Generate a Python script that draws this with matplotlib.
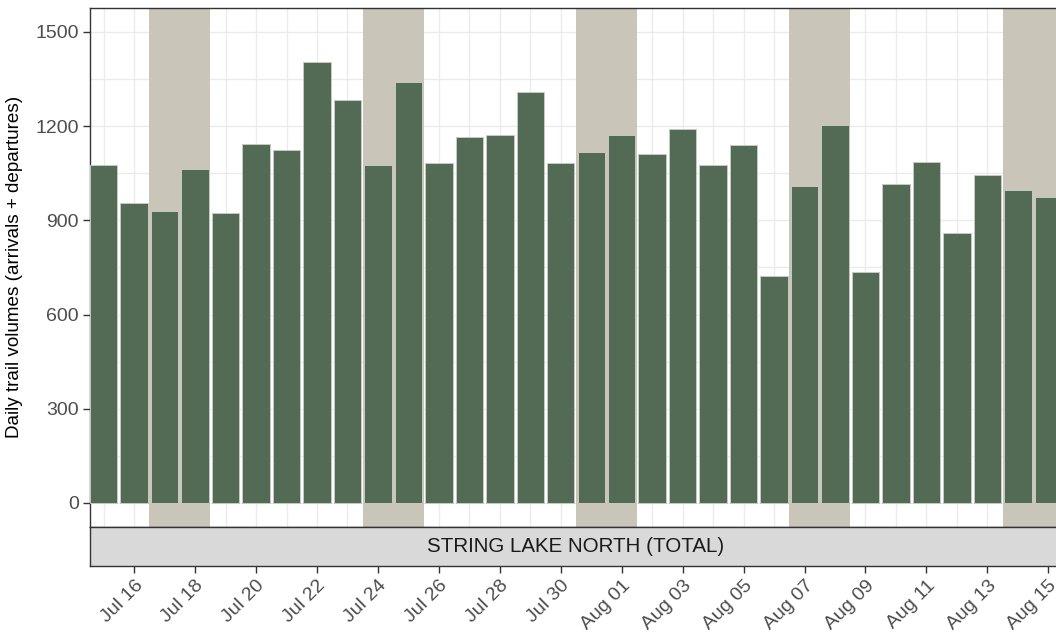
import numpy as np
import pandas as pd
import matplotlib
matplotlib.use('Agg')
import matplotlib.pyplot as plt
import matplotlib.dates as mdates

plt.rcParams['font.family'] = ['Liberation Sans', 'DejaVu Sans']

# daily totals, String Lake North
dates = pd.date_range('2021-07-15', '2021-08-15', freq='D')
volumes = [1076, 955, 930, 1064, 924, 1143, 1124, 1404, 1283, 1076, 1341,
           1083, 1166, 1172, 1309, 1083, 1118, 1172, 1111, 1191, 1076, 1140,
           723, 1010, 1204, 736, 1016, 1086, 860, 1045, 997, 975]
site = 'STRING LAKE NORTH (TOTAL)'
ylabel = 'Daily trail volumes (arrivals + departures)'
yticks = [0, 300, 600, 900, 1200, 1500]

bar_col = '#536a55'
shade_col = '#c9c5b9'
grid_col = '#ebebeb'

fig = plt.figure(figsize=(10.56, 6.39), dpi=100)
W, H = 1056, 639
px_left, px_right = 90, 1062
ax = fig.add_axes([px_left / W, (H - 526.5) / H, (px_right - px_left) / W, (526.5 - 8) / H])
strip = fig.add_axes([px_left / W, (H - 566) / H, (px_right - px_left) / W, 39.5 / H], sharex=ax)

x = mdates.date2num(dates)
ax.set_xlim(x[0] - 0.45, x[-1] + 0.45)
ax.set_ylim(-75, 1576)

# weekend shading (Sat + Sun)
for d in dates:
    if d.dayofweek == 5:
        s = mdates.date2num(d)
        ax.axvspan(s - 0.5, s + 1.5, color=shade_col, lw=0, zorder=1)

ax.bar(x, volumes, width=0.9, color=bar_col, edgecolor='#c4cbc3', linewidth=0.7, zorder=3)

ax.set_yticks(yticks)
ax.set_yticks([150, 450, 750, 1050, 1350], minor=True)
ax.set_xticks(mdates.date2num(dates[1::2]))
ax.set_xticks(mdates.date2num(dates[0::2]), minor=True)
ax.grid(True, which='both', color=grid_col, lw=1, zorder=0)
ax.set_axisbelow(True)
ax.tick_params(axis='x', which='both', bottom=False, labelbottom=False)
ax.tick_params(axis='y', which='minor', left=False)
ax.tick_params(axis='y', which='major', labelsize=14, labelcolor='#4d4d4d',
               color='#333333', length=5, width=1, pad=3)
for sp in ax.spines.values():
    sp.set_color('#333333')
    sp.set_linewidth(1)
ax.set_ylabel(ylabel, fontsize=13.6, color='black', labelpad=9)

strip.set_facecolor('#d9d9d9')
strip.set_yticks([])
strip.set_ylim(0, 1)
for sp in strip.spines.values():
    sp.set_color('#333333')
    sp.set_linewidth(1)
strip.text(0.5, 0.5, site, transform=strip.transAxes, ha='center', va='center',
           fontsize=14.8, color='#1a1a1a')
strip.xaxis.set_major_formatter(mdates.DateFormatter('%b %d'))
strip.tick_params(axis='x', which='major', labelsize=14, labelcolor='#4d4d4d',
                  color='#333333', length=5, width=1, rotation=45, pad=3)
strip.tick_params(axis='x', which='minor', bottom=False)
for lbl in strip.get_xticklabels():
    lbl.set_ha('right')
    lbl.set_rotation_mode('anchor')

fig.savefig('out.png', dpi=100)
